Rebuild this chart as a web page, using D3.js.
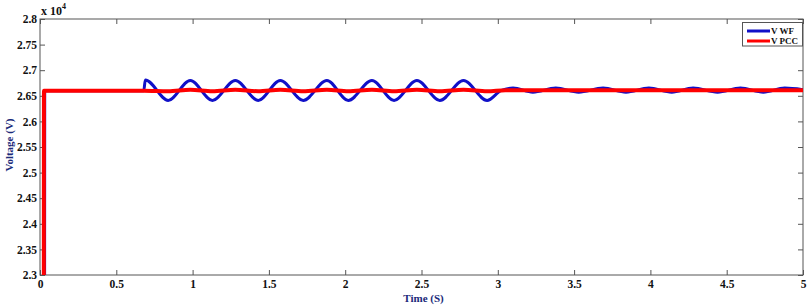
<!DOCTYPE html>
<html><head><meta charset="utf-8">
<script src="https://cdn.jsdelivr.net/npm/d3@7"></script>
<style>body{margin:0;background:#fff}svg{display:block}</style>
</head><body>
<svg id="c" width="809" height="305"></svg>
<script>
// ---- data (values in units of 10^4 V) ----
const xTicks = [0,0.5,1,1.5,2,2.5,3,3.5,4,4.5,5];
const yTicks = [2.3,2.35,2.4,2.45,2.5,2.55,2.6,2.65,2.7,2.75,2.8];
const seriesNames = ["V WF","V PCC"];
// V WF (blue)
const wfTime = [0.03,0.031,0.68,0.69,0.84,0.985,1.13,1.28,1.43,1.575,1.725,1.88,2.02,2.175,2.32,2.47,2.62,2.775,2.93,3.02,3.10,3.23,3.38,3.53,3.69,3.84,3.99,4.14,4.28,4.44,4.59,4.74,4.88,5.0];
const wfVal  = [2.2,2.66,2.66,2.681,2.641,2.680,2.641,2.680,2.641,2.680,2.641,2.680,2.641,2.680,2.641,2.680,2.641,2.680,2.641,2.660,2.665,2.657,2.665,2.657,2.665,2.657,2.665,2.657,2.665,2.657,2.665,2.657,2.665,2.662];
// V PCC (red)
const pccTime = [0.025,0.026,0.68,0.84,0.985,1.13,1.28,1.43,1.575,1.725,1.88,2.02,2.175,2.32,2.47,2.62,2.775,2.93,3.05,5.0];
const pccVal  = [2.2,2.66,2.66,2.659,2.662,2.659,2.662,2.659,2.662,2.659,2.662,2.659,2.662,2.659,2.662,2.659,2.662,2.659,2.661,2.661];

const svg = d3.select("#c");
const L=40, R=803, T=19, B=275;
const x = d3.scaleLinear().domain([0,5]).range([L,R]);
const y = d3.scaleLinear().domain([2.3,2.8]).range([B,T]);
const font = "Liberation Serif, Times New Roman, serif";
const axisCol = "#555";

svg.append("defs").append("clipPath").attr("id","clip")
  .append("rect").attr("x",L).attr("y",T).attr("width",R-L).attr("height",B-T);

// frame
svg.append("rect").attr("x",L).attr("y",T).attr("width",R-L).attr("height",B-T)
  .attr("fill","none").attr("stroke",axisCol).attr("stroke-width",1);

// axes (inward ticks)
const fmt = d => String(+d.toFixed(2));
function styleAxis(g){
  g.select(".domain").remove();
  g.selectAll(".tick line").attr("stroke",axisCol);
  g.selectAll(".tick text").attr("font-family",font).attr("font-weight","bold")
    .attr("font-size","11.5px").attr("fill","#111");
}
svg.append("g").attr("transform",`translate(0,${B})`)
  .call(d3.axisBottom(x).tickValues(xTicks).tickFormat(fmt).tickSizeInner(-5).tickSizeOuter(0).tickPadding(5))
  .call(styleAxis);
svg.append("g").attr("transform",`translate(0,${T})`)
  .call(d3.axisTop(x).tickValues(xTicks).tickFormat("").tickSizeInner(-5).tickSizeOuter(0))
  .call(styleAxis);
svg.append("g").attr("transform",`translate(${L},0)`)
  .call(d3.axisLeft(y).tickValues(yTicks).tickFormat(fmt).tickSizeInner(-5).tickSizeOuter(0).tickPadding(3))
  .call(styleAxis);
svg.append("g").attr("transform",`translate(${R},0)`)
  .call(d3.axisRight(y).tickValues(yTicks).tickFormat("").tickSizeInner(-5).tickSizeOuter(0))
  .call(styleAxis);

// exponent label
const ex = svg.append("text").attr("x",41).attr("y",15).attr("font-family",font)
  .attr("font-weight","bold").attr("font-size","12px").attr("fill","#111");
ex.append("tspan").text("x 10");
ex.append("tspan").attr("dy",-6).attr("font-size","8px").text("4");

// lines
const line = d3.line().x(d=>x(d[0])).y(d=>y(d[1])).curve(d3.curveMonotoneX);
const plot = svg.append("g").attr("clip-path","url(#clip)");
plot.append("path").datum(d3.zip(wfTime,wfVal)).attr("d",line)
  .attr("fill","none").attr("stroke","#1010c8").attr("stroke-width",3);
plot.append("path").datum(d3.zip(pccTime,pccVal)).attr("d",line)
  .attr("fill","none").attr("stroke","#ff0000").attr("stroke-width",4);

// axis titles
svg.append("text").attr("x",x(2.5)+2).attr("y",302).attr("text-anchor","middle")
  .attr("font-family",font).attr("font-weight","bold").attr("font-size","11px")
  .attr("fill","#1b2a7a").text("Time (S)");
svg.append("text").attr("transform",`translate(13,${(T+B)/2-2}) rotate(-90)`)
  .attr("text-anchor","middle").attr("font-family",font).attr("font-weight","bold")
  .attr("font-size","11px").attr("fill","#1b2a7a").text("Voltage (V)");

// legend
const lg = svg.append("g");
lg.append("rect").attr("x",742.5).attr("y",22.5).attr("width",60).attr("height",23.5)
  .attr("fill","#fff").attr("stroke",axisCol).attr("stroke-width",1);
const legCols = ["#1010c8","#ff0000"];
seriesNames.forEach((n,i)=>{
  const yy = 31 + i*10;
  lg.append("line").attr("x1",747).attr("x2",770).attr("y1",yy).attr("y2",yy)
    .attr("stroke",legCols[i]).attr("stroke-width",3);
  lg.append("text").attr("x",771).attr("y",yy+3).attr("font-family",font)
    .attr("font-weight","bold").attr("font-size","9px").attr("fill","#111").text(n);
});
</script>
</body></html>
